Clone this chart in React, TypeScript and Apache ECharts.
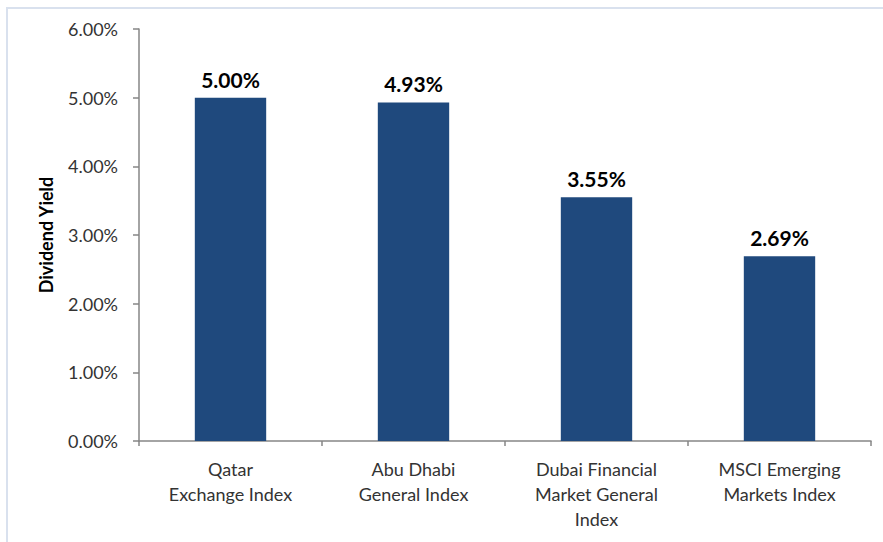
import React, { useEffect, useRef } from "react";
import * as echarts from "echarts";

const categories = [
  "Qatar\nExchange Index",
  "Abu Dhabi\nGeneral Index",
  "Dubai Financial\nMarket General\nIndex",
  "MSCI Emerging\nMarkets Index",
];
const dividendYield = [5.0, 4.93, 3.55, 2.69];
const yMin = 0;
const yMax = 6;
const yStep = 1;

export default function App() {
  const ref = useRef<HTMLDivElement>(null);
  useEffect(() => {
    if (!ref.current) return;
    const chart = echarts.init(ref.current, undefined, { renderer: "svg" });
    const font = "Lato, 'Open Sans', sans-serif";
    chart.setOption({
      animation: false,
      backgroundColor: "#ffffff",
      graphic: [
        {
          type: "rect",
          shape: { x: 7, y: 8, width: 1000, height: 1000 },
          style: { fill: "none", stroke: "#d9e1ee", lineWidth: 2 },
          silent: true,
        },
      ],
      grid: { left: 139, right: 12, top: 29, bottom: 101, containLabel: false },
      xAxis: {
        type: "category",
        data: categories,
        axisLine: { lineStyle: { color: "#868686", width: 1.5 } },
        axisTick: { show: true, length: 5, lineStyle: { color: "#868686", width: 1.5 } },
        axisLabel: {
          interval: 0,
          margin: 15,
          fontFamily: font,
          fontSize: 18,
          lineHeight: 25,
          color: "#333333",
          align: "center",
        },
      },
      yAxis: {
        type: "value",
        min: yMin,
        max: yMax,
        interval: yStep,
        name: "Dividend Yield",
        nameLocation: "middle",
        nameGap: 84,
        nameTextStyle: { fontFamily: font, fontSize: 18, fontWeight: "bold", color: "#000000" },
        splitLine: { show: false },
        axisLine: { show: true, lineStyle: { color: "#868686", width: 1.5 } },
        axisTick: { show: true, length: 6, lineStyle: { color: "#868686", width: 1.5 } },
        axisLabel: {
          margin: 21,
          fontFamily: font,
          fontSize: 18,
          color: "#333333",
          formatter: (v: number) => v.toFixed(2) + "%",
        },
      },
      series: [
        {
          type: "bar",
          data: dividendYield,
          barWidth: "39%",
          itemStyle: { color: "#1F497D" },
          label: {
            show: true,
            position: "top",
            distance: 8,
            fontFamily: font,
            fontSize: 21,
            fontWeight: "bold",
            color: "#000000",
            formatter: (p: any) => Number(p.value).toFixed(2) + "%",
          },
        },
      ],
    });
    return () => chart.dispose();
  }, []);
  return (
    <div
      ref={ref}
      style={{ position: "fixed", left: 0, top: 0, width: 883, height: 542 }}
    />
  );
}
